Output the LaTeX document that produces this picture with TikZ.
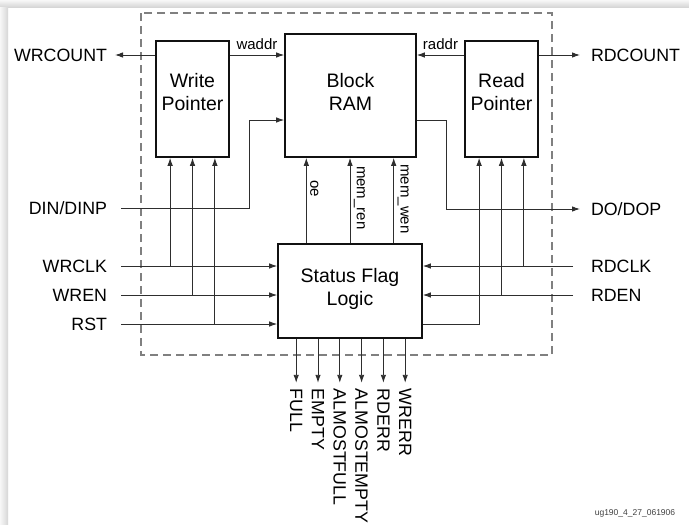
\documentclass[tikz,border=0pt]{standalone}
\usepackage{fontspec}
\setmainfont{Liberation Sans}
\usetikzlibrary{arrows.meta,calc}
\definecolor{ink}{HTML}{111111}
\definecolor{wirecol}{HTML}{2E2E2E}
\definecolor{fence}{HTML}{808080}

\begin{document}
\begin{tikzpicture}[x=1pt, y=-1pt,
  font=\fontsize{17.8}{21}\selectfont,
  >={Latex[length=8pt,width=5.5pt]},
  block/.style={draw=ink, line width=1.6pt, align=center, inner sep=0pt,
    font=\fontsize{19.5}{23}\selectfont},
  port/.style={inner sep=0pt, outer sep=#1},
  tag/.style={inner sep=0pt, font=\fontsize{15}{17}\selectfont},
  sidetag/.style={tag, outer sep=4pt, rotate=-90, anchor=south west},
  flagout/.style={inner sep=0pt, outer sep=6pt, rotate=-90, anchor=west},
  wire/.style={draw=wirecol, line width=0.9pt}
]
\useasboundingbox (0,0) rectangle (689,525);
\fill[white] (0,0) rectangle (689,525);
\shade[top color=black!3, bottom color=black!16] (0,0) rectangle (689,7);
\shade[left color=black!3, right color=black!16] (0,7) rectangle (8,525);

% FIFO boundary
\draw[fence, line width=1.3pt, dash pattern=on 8pt off 5pt] (141,13) rectangle (552,355);

\node[block, minimum width=73pt, minimum height=116pt, text depth=14pt] (wp) at (192.5,99) {Write\\Pointer};
\node[block, minimum width=131pt, minimum height=123pt, text depth=8pt] (ram) at (350.5,95.5) {Block\\RAM};
\node[block, minimum width=73pt, minimum height=116pt, text depth=14pt] (rp) at (501.5,99) {Read\\Pointer};
\node[block, minimum width=144pt, minimum height=94pt, text depth=8pt] (sfl) at (350,291) {Status Flag\\Logic};

\node[port=8pt, anchor=east] (wrcount) at (115,55) {WRCOUNT};
\node[port=14pt, anchor=east] (din) at (121,208) {DIN/DINP};
\node[port=14pt, anchor=east] (wrclk) at (121,266) {WRCLK};
\node[port=14pt, anchor=east] (wren) at (121,295) {WREN};
\node[port=14pt, anchor=east] (rst) at (121,324) {RST};
\node[port=11pt, anchor=west] (rdcount) at (580,55) {RDCOUNT};
\node[port=11pt, anchor=west] (dop) at (580,209) {DO/DOP};
\node[port=18pt, anchor=west] (rdclk) at (573,266) {RDCLK};
\node[port=18pt, anchor=west] (rden) at (573,295) {RDEN};

% pointers and the RAM
\draw[wire, ->] (wp.west |- wrcount.east) -- (wrcount.east);
\draw[wire, ->] (wp.east |- wrcount.east) -- node[tag, above=5pt] {waddr} (ram.west |- wrcount.east);
\draw[wire, ->] (rp.west |- rdcount.west) -- node[tag, above=5pt] {raddr} (ram.east |- rdcount.west);
\draw[wire, ->] (rp.east |- rdcount.west) -- (rdcount.west);

\coordinate (dinturn) at (249,120);
\draw[wire, ->] (din.east) -| (dinturn) -- (ram.west |- dinturn);
\coordinate (doturn) at (446,120);
\draw[wire, ->] (ram.east |- doturn) -- (doturn) |- (dop.west);

% taps under the pointers and the flag logic
\coordinate (wpa) at ($(wp.south west)!0.2!(wp.south east)$);
\coordinate (wpb) at (wp.south);
\coordinate (wpc) at ($(wp.south west)!0.8!(wp.south east)$);
\coordinate (rpa) at ($(rp.south west)!0.2!(rp.south east)$);
\coordinate (rpb) at (rp.south);
\coordinate (rpc) at ($(rp.south west)!0.8!(rp.south east)$);
\coordinate (ctla) at ($(sfl.north west)!0.2!(sfl.north east)$);
\coordinate (ctlb) at (sfl.north);
\coordinate (ctlc) at ($(sfl.north west)!0.8!(sfl.north east)$);

\draw[wire, ->] (wrclk.east) -- (sfl.west |- wrclk.east);
\draw[wire, ->] (wren.east) -- (sfl.west |- wren.east);
\draw[wire, ->] (rst.east) -- (sfl.west |- rst.east);
\draw[wire, ->] (wpa |- wrclk.east) -- (wpa);
\draw[wire, ->] (wpb |- wren.east) -- (wpb);
\draw[wire, ->] (wpc |- rst.east) -- (wpc);

\draw[wire, ->] (rdclk.west) -- (sfl.east |- rdclk.west);
\draw[wire, ->] (rden.west) -- (sfl.east |- rden.west);
\draw[wire, ->] (rpc |- rdclk.west) -- (rpc);
\draw[wire, ->] (rpb |- rden.west) -- (rpb);
\draw[wire, ->] (sfl.east |- rst.east) -| (rpa);

\draw[wire, ->] (ctla) -- node[sidetag, pos=0.78] {oe} (ram.south -| ctla);
\draw[wire, ->] (ctlb) -- node[sidetag, pos=0.95] {mem\_ren} (ram.south -| ctlb);
\draw[wire, ->] (ctlc) -- node[sidetag, pos=0.97] {mem\_wen} (ram.south -| ctlc);

% status outputs
\foreach \flag [count=\i] in {FULL,EMPTY,ALMOSTFULL,ALMOSTEMPTY,RDERR,WRERR} {
  \coordinate (flag\i) at ($(sfl.south west)+(19+21.8*\i-21.8,0)$);
  \draw[wire, ->] (flag\i) -- ++(0,44) node[flagout] {\flag};
}

\node[font=\fontsize{8.5}{10}\selectfont, text=black!75] (docid) at (635,513) {ug190\_4\_27\_061906};
\end{tikzpicture}
\end{document}
